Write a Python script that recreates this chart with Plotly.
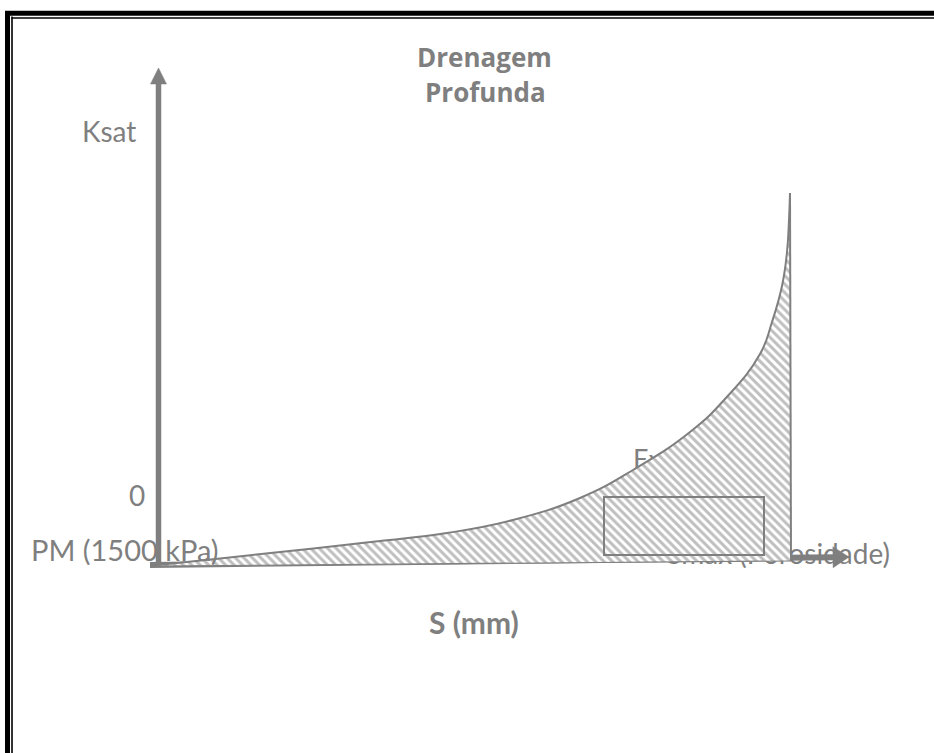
import numpy as np
import plotly.graph_objects as go

# ---- schematic data (S in diagram units from PM, K in diagram units from 0) ----
curve_s = [0, 62, 122, 182, 222, 289, 355, 422, 475, 532, 567, 602, 614, 624, 629, 631, 632]
curve_k = [0, 6.5, 13, 19.5, 24, 32, 45, 67, 95, 133, 166, 211, 243, 279, 313, 345, 372]
base_s = [0, 633]
base_k = [-1, 4]
rect_s = [446, 606]
rect_k = [10, 68]
x_axis_s = [-8, 691]
x_axis_k = [0, 8]
y_axis_s = [0.5, 0.5]
y_axis_k = [-2, 497]

title_lines = ["Drenagem", "Profunda"]
title_s = [326, 327]
title_k = [508, 473]
ylabel_text, ylabel_pos = "Ksat", [-49.5, 434]
zero_text, zero_pos = "0", [-21, 70]
pm_text, pm_pos = "PM (1500 kPa)", [-33, 16]
xlabel_text, xlabel_pos = "S (mm)", [316, -57]
ex_text, ex_pos = "Ex", [475, 103]
smax_text, smax_pos = "Smax (Porosidade)", [732, 8]

GRAY = "#7f7f7f"
W, H = 934, 753
X_RANGE = [-158, 776]
Y_RANGE = [-188, 565]

fig = go.Figure()

# hidden labels (behind the hatched area / arrow)
fig.add_trace(go.Scatter(x=[ex_pos[0]], y=[ex_pos[1]], mode="text", text=[ex_text],
                         textposition="middle right",
                         textfont=dict(family="Lato", size=27, color=GRAY),
                         showlegend=False, hoverinfo="skip"))
fig.add_trace(go.Scatter(x=[smax_pos[0]], y=[smax_pos[1]], mode="text", text=[smax_text],
                         textposition="middle left",
                         textfont=dict(family="Lato", size=28, color=GRAY),
                         showlegend=False, hoverinfo="skip"))


def add_arrow(s, k, width, head_len, head_half):
    p0 = np.array([s[0], k[0]], dtype=float)
    p1 = np.array([s[1], k[1]], dtype=float)
    d = (p1 - p0) / np.linalg.norm(p1 - p0)
    n = np.array([-d[1], d[0]])
    base = p1 - d * head_len
    shaft_end = base + d * 2
    fig.add_trace(go.Scatter(x=[p0[0], shaft_end[0]], y=[p0[1], shaft_end[1]], mode="lines",
                             line=dict(color=GRAY, width=width),
                             showlegend=False, hoverinfo="skip"))
    tri = np.array([p1, base + n * head_half, base - n * head_half, p1])
    fig.add_trace(go.Scatter(x=tri[:, 0], y=tri[:, 1], mode="lines", fill="toself",
                             fillcolor=GRAY, line=dict(color=GRAY, width=0.5),
                             showlegend=False, hoverinfo="skip"))


add_arrow(x_axis_s, x_axis_k, 6, 16, 10.5)
add_arrow(y_axis_s, y_axis_k, 5.5, 16, 8)

# hatched area: baseline then smooth curve filled to it
fig.add_trace(go.Scatter(x=base_s, y=base_k, mode="lines",
                         line=dict(color=GRAY, width=1.2),
                         showlegend=False, hoverinfo="skip"))
fig.add_trace(go.Scatter(x=curve_s, y=curve_k, mode="lines", fill="tonexty",
                         fillcolor="white",
                         fillpattern=dict(shape="\\", fgcolor=GRAY, bgcolor="white",
                                          size=6, solidity=0.5),
                         line=dict(color=GRAY, width=2, shape="spline", smoothing=1.3),
                         showlegend=False, hoverinfo="skip"))
# right (vertical) edge of the area
fig.add_trace(go.Scatter(x=[curve_s[-1], base_s[-1]], y=[curve_k[-1], base_k[-1]], mode="lines",
                         line=dict(color=GRAY, width=2),
                         showlegend=False, hoverinfo="skip"))

# rectangle
fig.add_shape(type="rect", x0=rect_s[0], x1=rect_s[1], y0=rect_k[0], y1=rect_k[1],
              xref="x", yref="y", line=dict(color=GRAY, width=2), layer="above")

# visible labels
for t, s, k in zip(title_lines, title_s, title_k):
    fig.add_annotation(x=s, y=k, text=f"<b>{t}</b>", showarrow=False,
                       font=dict(family="Open Sans", size=26, color=GRAY),
                       xanchor="center", yanchor="middle")
for t, p, bold, sz in [(ylabel_text, ylabel_pos, False, 28), (zero_text, zero_pos, False, 28),
                       (pm_text, pm_pos, False, 29), (xlabel_text, xlabel_pos, True, 30)]:
    fig.add_annotation(x=p[0], y=p[1], text=(f"<b>{t}</b>" if bold else t), showarrow=False,
                       font=dict(family="Lato", size=sz, color=GRAY),
                       xanchor="center", yanchor="middle")

# frame (double line top & left)
def px_x(v):
    return v / W


def px_y(v):
    return 1 - v / H


frame = [
    (5, 13.3, W, 13.3, 5),
    (11.5, 18, W, 18, 1.6),
    (7.5, 11, 7.5, H, 5),
    (12, 16.5, 12, H, 1.6),
]
for x0, y0, x1, y1, w in frame:
    fig.add_shape(type="line", xref="paper", yref="paper",
                  x0=px_x(x0), y0=px_y(y0), x1=px_x(x1), y1=px_y(y1),
                  line=dict(color="black", width=w), layer="above")

fig.update_layout(
    width=W, height=H, autosize=False,
    margin=dict(l=0, r=0, t=0, b=0, pad=0),
    paper_bgcolor="white", plot_bgcolor="white",
    xaxis=dict(range=X_RANGE, visible=False, fixedrange=True),
    yaxis=dict(range=Y_RANGE, visible=False, fixedrange=True),
    showlegend=False,
)

fig.write_html("out.html", config={"displayModeBar": False},
               post_script="document.body.style.margin='0';")
